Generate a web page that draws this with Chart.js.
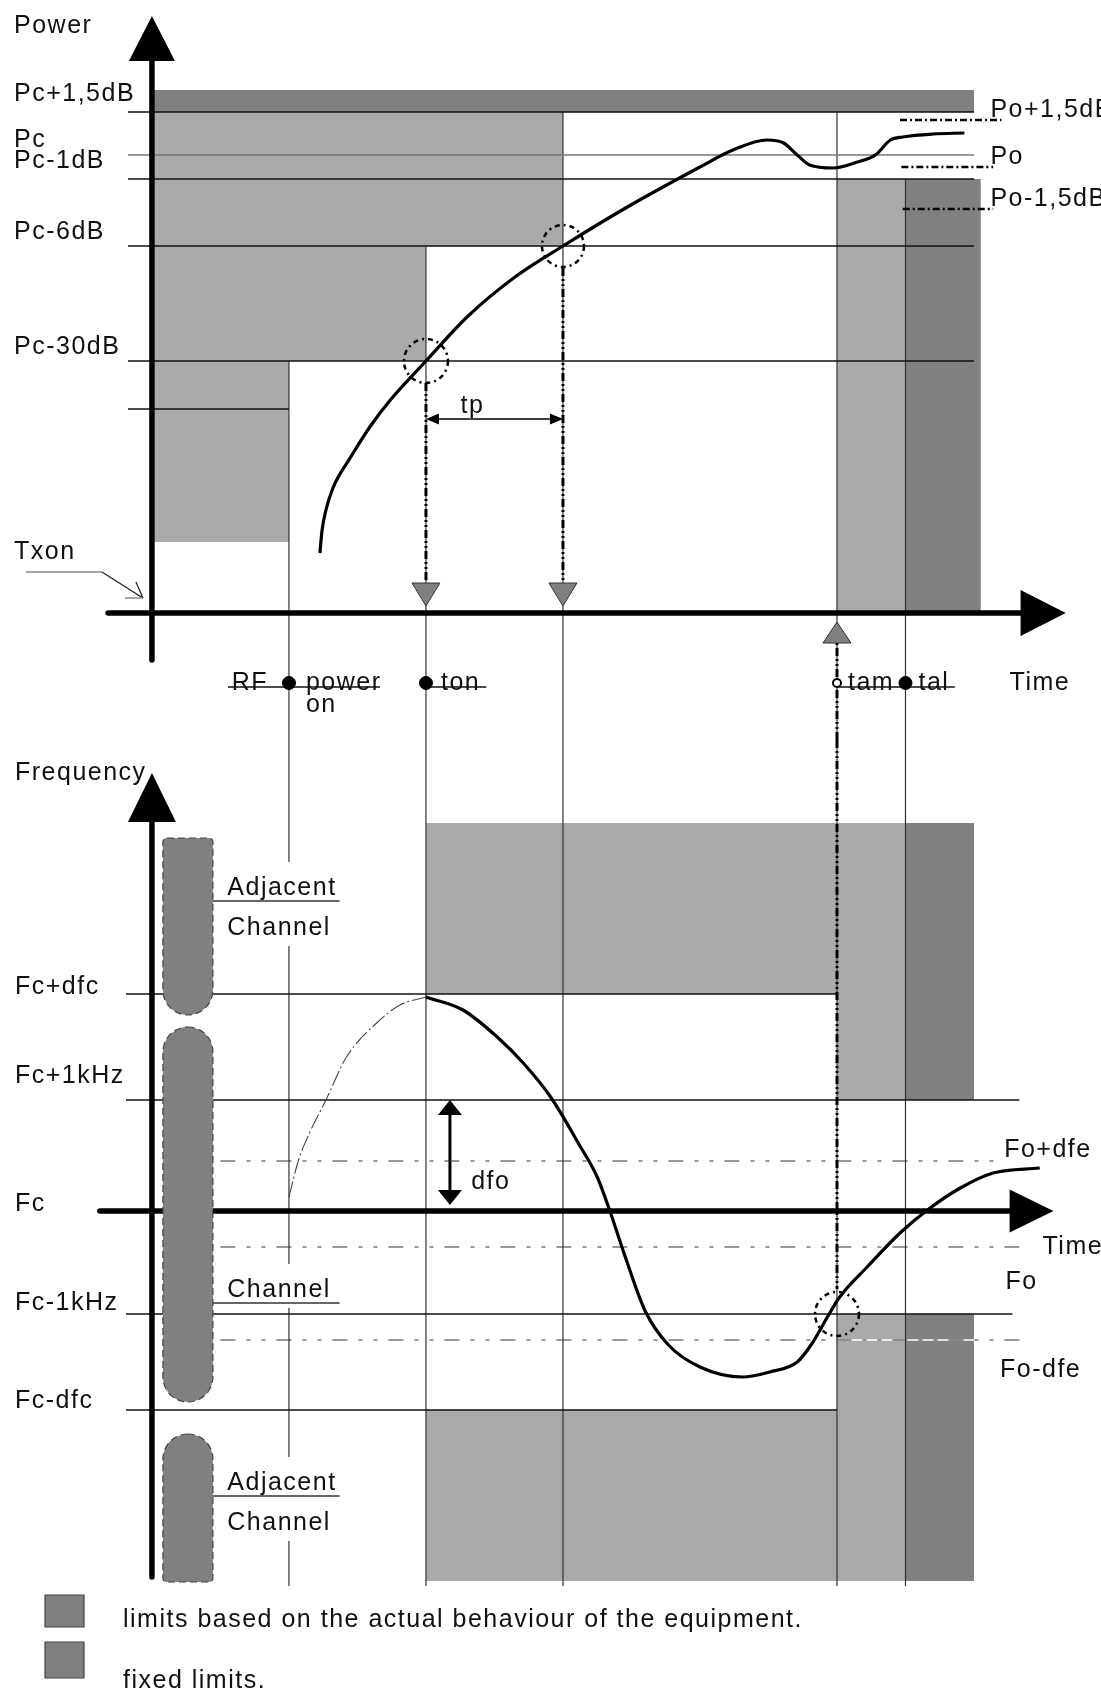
<!DOCTYPE html>
<html>
<head>
<meta charset="utf-8">
<title>Power and frequency limits during transmitter switch-on</title>
<script src="https://cdn.jsdelivr.net/npm/chart.js@4.4.0/dist/chart.umd.min.js"></script>
<style>
  html, body { margin: 0; padding: 0; background: #fff; }
  #wrap { width: 1101px; height: 1690px; overflow: hidden; }
  canvas { display: block; }
</style>
</head>
<body>
<div id="wrap">
  <canvas id="powerCanvas" width="1101" height="740"></canvas>
  <canvas id="freqCanvas" width="1101" height="950"></canvas>
</div>
<script>
// schematic units: time in steps (0 = Txon), levels in divisions above the time axis

var eventTimes = [1, 2, 3, 5, 5.5];
var eventNames = ['RF power on', 'ton', '', 'tam', 'tal'];

var powerLevels = [50.1, 45.8, 43.4, 36.7, 25.2, 20.4];
var powerNames  = ['Pc+1,5dB', 'Pc', 'Pc-1dB', 'Pc-6dB', 'Pc-30dB', ''];
var powerBandTop = 52.3;
var rfMaskBottom = 7.1;
var poLevels = [49.3, 44.6, 40.4];
var poNames  = ['Po+1,5dB', 'Po', 'Po-1,5dB'];
var powerT = [1.226, 1.241, 1.270, 1.321, 1.372, 1.423, 1.59, 1.74, 2.0, 2.30, 2.64, 3.0, 3.47, 4.0, 4.24, 4.49, 4.61, 4.71, 4.80, 4.97, 5.15, 5.28, 5.39, 5.48, 5.70, 5.93];
var powerV = [6.0, 8.2, 10.3, 12.5, 13.9, 15.0, 18.6, 21.3, 25.2, 29.6, 33.5, 36.7, 40.6, 44.6, 46.3, 47.3, 47.0, 45.8, 44.8, 44.5, 45.1, 45.8, 47.3, 47.6, 47.9, 48.0];

var freqLevels = [21.7, 11.1, 0, -10.3, -19.9];
var freqNames  = ['Fc+dfc', 'Fc+1kHz', 'Fc', 'Fc-1kHz', 'Fc-dfc'];
var foLevels = [5.0, -3.6, -12.9];
var foNames  = ['Fo+dfe', 'Fo', 'Fo-dfe'];
var freqMaskTop = 38.8;
var freqMaskBottom = -37.0;
var channelTop    = [37.3, 18.4, -22.3];
var channelBottom = [19.6, -19.1, -37.1];
var channelNames  = [['Adjacent', 'Channel'], ['Channel'], ['Adjacent', 'Channel']];
var warmT = [1.0, 1.07, 1.15, 1.27, 1.42, 1.64, 1.81, 2.0];
var warmV = [1.4, 5.1, 7.8, 11.1, 15.4, 18.8, 20.6, 21.4];
var freqT = [2.0, 2.27, 2.52, 2.71, 2.91, 3.12, 3.25, 3.34, 3.46, 3.60, 3.77, 4.0, 4.31, 4.51, 4.71, 4.82, 4.93, 5.02, 5.22, 5.46, 5.66, 5.90, 6.14, 6.48];
var freqV = [21.4, 20.1, 17.4, 14.8, 11.4, 6.6, 3.4, 0.1, -4.8, -10.0, -13.4, -15.6, -16.6, -16.1, -15.1, -13.2, -10.6, -8.6, -5.6, -2.2, 0.1, 2.3, 3.8, 4.3];

var legendNames = ['limits based on the actual behaviour of the equipment.', 'fixed limits.'];

// ---- styles ----
var LIGHT = '#aaaaaa', DARK = '#808080';
var FONT = '25px "Liberation Sans", Arial, sans-serif';
var GUIDE_DASH = [8, 3, 2, 3, 2, 3];

function seg(t0, v0, t1, v1, extra) {
    var ds = { data: [{x: t0, y: v0}, {x: t1, y: v1}], borderColor: '#111', borderWidth: 1.4,
               pointRadius: 0, fill: false, tension: 0, order: 20 };
    for (var k in extra) ds[k] = extra[k];
    return ds;
}
function zone(t0, t1, v0, v1, colour) {
    return { data: [{x: t0, y: v1}, {x: t1, y: v1}], fill: {value: v0}, backgroundColor: colour,
             borderColor: 'rgba(0,0,0,0)', borderWidth: 0, pointRadius: 0, order: 40 };
}
function curve(ts, vs, extra) {
    var pts = [];
    for (var i = 0; i < ts.length; i++) pts.push({x: ts[i], y: vs[i]});
    var ds = { data: pts, borderColor: '#000', borderWidth: 3.2, pointRadius: 0, fill: false,
               cubicInterpolationMode: 'monotone', order: 10 };
    for (var k in extra) ds[k] = extra[k];
    return ds;
}
function options(yMin, yMax) {
    return {
        responsive: false, animation: false, events: [],
        layout: { padding: 0, autoPadding: false },
        plugins: { legend: { display: false }, tooltip: { enabled: false } },
        scales: {
            x: { type: 'linear', min: -1.109, max: 6.927, display: false },
            y: { type: 'linear', min: yMin, max: yMax, display: false }
        }
    };
}

function poly(ctx, pts, fill, stroke, lw) {
    ctx.beginPath();
    ctx.moveTo(pts[0][0], pts[0][1]);
    for (var i = 1; i < pts.length; i++) ctx.lineTo(pts[i][0], pts[i][1]);
    ctx.closePath();
    if (fill) { ctx.fillStyle = fill; ctx.fill(); }
    if (stroke) { ctx.setLineDash([]); ctx.strokeStyle = stroke; ctx.lineWidth = lw || 1; ctx.stroke(); }
}
function ring(ctx, x, y, r) {
    ctx.save();
    ctx.setLineDash([5, 4, 2, 4]);
    ctx.lineWidth = 2.5;
    ctx.strokeStyle = '#000';
    ctx.beginPath();
    ctx.arc(x, y, r, 0, Math.PI * 2);
    ctx.stroke();
    ctx.restore();
}
function text(ctx, s, x, y, align) {
    ctx.font = FONT;
    ctx.fillStyle = '#111';
    ctx.textAlign = align || 'left';
    ctx.textBaseline = 'middle';
    ctx.letterSpacing = '1.5px';
    ctx.fillText(s, x, y);
}
function line(ctx, pts, colour, lw) {
    ctx.setLineDash([]);
    ctx.strokeStyle = colour;
    ctx.lineWidth = lw;
    ctx.beginPath();
    ctx.moveTo(pts[0][0], pts[0][1]);
    for (var i = 1; i < pts.length; i++) ctx.lineTo(pts[i][0], pts[i][1]);
    ctx.stroke();
}

// ---------------- power panel ----------------
var eventRow = -7.0;
var tpLevel = 19.4;
var powerSets = [
    zone(0, 3, powerLevels[3], powerLevels[0], LIGHT),
    zone(0, 2, powerLevels[4], powerLevels[0], LIGHT),
    zone(0, 1, rfMaskBottom, powerLevels[0], LIGHT),
    zone(0, 6, powerLevels[0], powerBandTop, DARK),
    zone(5, 5.5, 0, powerLevels[2], LIGHT),
    zone(5.5, 6.05, 0, powerLevels[2], DARK)
];
powerLevels.forEach(function (v, i) {
    powerSets.push(seg(-0.175, v, i === 5 ? 1 : 6, v, { borderColor: i === 1 ? '#777' : '#111' }));
});
var guideTop = [powerLevels[4], powerLevels[3], powerLevels[0], powerLevels[0], powerLevels[2]];
eventTimes.forEach(function (t, i) {
    powerSets.push(seg(t, guideTop[i], t, -12.7, { borderColor: '#333', borderWidth: 1.2 }));
});
poLevels.forEach(function (v, i) {
    powerSets.push(seg(5.46 + i * 0.01, v, i === 0 ? 6.2 : 6.14, v,
        { borderDash: [7, 3, 2, 3], borderWidth: 2.6, borderColor: '#000', order: 15 }));
});
powerSets.push(seg(2, 23.0, 2, 3.0, { borderDash: GUIDE_DASH, borderWidth: 3, borderColor: '#000', order: 15 }));
powerSets.push(seg(3, 34.5, 3, 3.0, { borderDash: GUIDE_DASH, borderWidth: 3, borderColor: '#000', order: 15 }));
powerSets.push(seg(5, -12.7, 5, -3.0, { borderDash: GUIDE_DASH, borderWidth: 3, borderColor: '#000', order: 15 }));
powerSets.push(seg(2.06, tpLevel, 2.94, tpLevel, { borderWidth: 1.6, borderColor: '#000' }));
powerSets.push(seg(0.555, -7.4, 1.664, -7.4, { borderWidth: 1.3 }));
powerSets.push(seg(2.0, -7.4, 2.44, -7.4, { borderWidth: 1.3 }));
powerSets.push(seg(5.0, -7.4, 5.86, -7.4, { borderWidth: 1.3 }));
powerSets.push(curve(powerT, powerV));
powerSets.push(seg(-0.32, 0, 6.34, 0, { borderWidth: 5.5, borderColor: '#000', borderCapStyle: 'round', order: 5 }));
powerSets.push(seg(0, -4.7, 0, 55.2, { borderWidth: 5.5, borderColor: '#000', borderCapStyle: 'round', order: 5 }));
powerSets.push({
    data: eventTimes.filter(function (t, i) { return eventNames[i]; })
                    .map(function (t) { return {x: t, y: eventRow}; }),
    showLine: false, order: 1,
    pointRadius: [6.5, 6.5, 4, 6.5],
    pointBackgroundColor: ['#000', '#000', '#fff', '#000'],
    pointBorderColor: '#000', pointBorderWidth: [1, 1, 2, 1]
});

var powerDecor = {
    id: 'powerDecor',
    afterDatasetsDraw: function (chart) {
        var ctx = chart.ctx, xs = chart.scales.x, ys = chart.scales.y;
        function px(t) { return xs.getPixelForValue(t); }
        function py(v) { return ys.getPixelForValue(v); }
        var x0 = px(0), y0 = py(0);
        ctx.save();

        // axis arrow heads
        poly(ctx, [[x0, py(59.7)], [x0 - 23, py(55.2)], [x0 + 23, py(55.2)]], '#000');
        poly(ctx, [[px(6.67), y0], [px(6.34), y0 - 23], [px(6.34), y0 + 23]], '#000');

        // markers on the time axis
        [eventTimes[1], eventTimes[2]].forEach(function (t) {
            poly(ctx, [[px(t) - 14, y0 - 30], [px(t) + 14, y0 - 30], [px(t), y0 - 7]], DARK, '#333', 1);
        });
        var ta = px(eventTimes[3]);
        poly(ctx, [[ta, y0 + 9], [ta - 14, y0 + 30], [ta + 14, y0 + 30]], DARK, '#333', 1);

        ring(ctx, px(eventTimes[1]), py(powerLevels[4]), 22);
        ring(ctx, px(eventTimes[2]), py(powerLevels[3]), 21);

        // tp
        var ty = py(tpLevel), a = px(eventTimes[1]), b = px(eventTimes[2]);
        poly(ctx, [[a, ty], [a + 13, ty - 5.5], [a + 13, ty + 5.5]], '#000');
        poly(ctx, [[b, ty], [b - 13, ty - 5.5], [b - 13, ty + 5.5]], '#000');
        text(ctx, 'tp', px(2.34), py(20.7), 'center');

        // Txon pointer
        line(ctx, [[x0 - 126, y0 - 41], [x0 - 50, y0 - 41]], '#888', 1.5);
        line(ctx, [[x0 - 50, y0 - 41], [x0 - 9, y0 - 15]], '#222', 1.3);
        line(ctx, [[x0 - 16, y0 - 31], [x0 - 9, y0 - 15]], '#222', 1.3);
        line(ctx, [[x0 - 27, y0 - 15], [x0 - 9, y0 - 15]], '#888', 1.5);

        // labels
        text(ctx, 'Power', 14, py(58.7));
        var dy = [18, 15, 18, 14, 14, 0];
        powerNames.forEach(function (s, i) { if (s) text(ctx, s, 14, py(powerLevels[i]) - dy[i]); });
        text(ctx, 'Txon', 14, py(6.1));
        poNames.forEach(function (s, i) { text(ctx, s, px(6.12), py(poLevels[i]) - 10); });

        var ey = py(eventRow), words = eventNames[0].split(' ');
        text(ctx, words[0], px(eventTimes[0]) - 21, ey, 'right');
        text(ctx, words[1], px(eventTimes[0]) + 17, ey);
        text(ctx, words[2], px(eventTimes[0]) + 17, ey + 22);
        text(ctx, eventNames[1], px(eventTimes[1]) + 15, ey);
        text(ctx, eventNames[3], px(eventTimes[3]) + 11, ey);
        text(ctx, eventNames[4], px(eventTimes[4]) + 13, ey);
        text(ctx, 'Time', px(6.26), ey);
        ctx.restore();
    }
};

new Chart(document.getElementById('powerCanvas'), {
    type: 'line',
    data: { datasets: powerSets },
    options: options(-12.7, 61.3),
    plugins: [powerDecor]
});

// ---------------- frequency panel ----------------
var freqSets = [
    zone(2, 5, freqLevels[0], freqMaskTop, LIGHT),
    zone(5, 5.5, freqLevels[1], freqMaskTop, LIGHT),
    zone(5.5, 6, freqLevels[1], freqMaskTop, DARK),
    zone(2, 5, freqMaskBottom, freqLevels[4], LIGHT),
    zone(5, 5.5, freqMaskBottom, freqLevels[3], LIGHT),
    zone(5.5, 6, freqMaskBottom, freqLevels[3], DARK)
];
var freqLineEnd = [5, 6.33, null, 6.28, 5];
freqLevels.forEach(function (v, i) {
    if (freqLineEnd[i] !== null) freqSets.push(seg(-0.19, v, freqLineEnd[i], v, { borderWidth: 1.6 }));
});
eventTimes.forEach(function (t) {
    freqSets.push(seg(t, 47.1, t, -37.5, { borderColor: '#333', borderWidth: 1.2 }));
});
freqSets.push(seg(5, foLevels[2], 6, foLevels[2], { borderColor: '#fff', borderWidth: 1.3, order: 30 }));
var foEnd = [6.22, 6.36, 6.36];
foLevels.forEach(function (v, i) {
    freqSets.push(seg(0.5, v, foEnd[i], v, { borderDash: [15, 11, 4, 11, 4, 11], borderWidth: 1.2, borderColor: '#333', order: 18 }));
});
freqSets.push(seg(5, 47.1, 5, -7.8, { borderDash: GUIDE_DASH, borderWidth: 3, borderColor: '#000', order: 15 }));
freqSets.push(seg(2.175, 9.7, 2.175, 1.4, { borderWidth: 3, borderColor: '#000' }));
freqSets.push(curve(warmT, warmV, { borderWidth: 1.1, borderColor: '#444', borderDash: [16, 3, 2, 3], order: 12 }));
freqSets.push(curve(freqT, freqV));
freqSets.push(seg(-0.38, 0, 6.26, 0, { borderWidth: 5.5, borderColor: '#000', borderCapStyle: 'round', order: 5 }));
freqSets.push(seg(0, -36.6, 0, 38.9, { borderWidth: 5.5, borderColor: '#000', borderCapStyle: 'round', order: 5 }));

var channelLabelV = [32.3, -7.9, -27.2];

var freqDecor = {
    id: 'freqDecor',
    afterDatasetsDraw: function (chart) {
        var ctx = chart.ctx, xs = chart.scales.x, ys = chart.scales.y;
        function px(t) { return xs.getPixelForValue(t); }
        function py(v) { return ys.getPixelForValue(v); }
        var x0 = px(0), y0 = py(0);
        ctx.save();

        poly(ctx, [[x0, py(43.8)], [x0 - 24, py(38.9)], [x0 + 24, py(38.9)]], '#000');
        poly(ctx, [[px(6.58), y0], [px(6.26), y0 - 21.5], [px(6.26), y0 + 21.5]], '#000');

        // channel blobs
        var bx0 = px(0.08), bx1 = px(0.445), r = (bx1 - bx0) / 2;
        channelTop.forEach(function (top, i) {
            var rt = i === 0 ? 4 : r, rb = i === 2 ? 4 : r;
            ctx.beginPath();
            ctx.roundRect(bx0, py(top), bx1 - bx0, py(channelBottom[i]) - py(top), [rt, rt, rb, rb]);
            ctx.fillStyle = DARK;
            ctx.fill();
            ctx.setLineDash([7, 4]);
            ctx.lineWidth = 1.2;
            ctx.strokeStyle = '#444';
            ctx.stroke();
        });

        // channel labels
        var lx = px(0.55);
        channelNames.forEach(function (names, i) {
            var first = py(channelLabelV[i]), last = first + (names.length - 1) * 40;
            ctx.fillStyle = '#fff';
            ctx.fillRect(lx - 6, first - 26, 124, last - first + 44);
            line(ctx, [[bx1, first + 13], [px(1.37), first + 13]], '#333', 1.3);
            names.forEach(function (s, k) { text(ctx, s, lx, first + k * 40); });
        });

        ring(ctx, px(eventTimes[3]), py(freqLevels[3]), 22);

        // dfo arrow
        var dx = px(2.175);
        poly(ctx, [[dx, py(freqLevels[1])], [dx - 12, py(freqLevels[1]) + 15], [dx + 12, py(freqLevels[1]) + 15]], '#000');
        poly(ctx, [[dx, py(0.6)], [dx - 12, py(0.6) - 15], [dx + 12, py(0.6) - 15]], '#000');
        text(ctx, 'dfo', px(2.33), py(2.9));

        // labels
        text(ctx, 'Frequency', 15, py(43.8));
        var dy = [7, 24, 7, 11, 9];
        freqNames.forEach(function (s, i) { text(ctx, s, 15, py(freqLevels[i]) - dy[i]); });
        text(ctx, foNames[0], px(6.22), py(foLevels[0]) - 11);
        text(ctx, foNames[1], px(6.23), py(foLevels[1]) + 35);
        text(ctx, foNames[2], px(6.19), py(foLevels[2]) + 30);
        text(ctx, 'Time', px(6.5), py(foLevels[1]));

        // legend
        var H = chart.height;
        poly(ctx, [[45, H - 95], [84, H - 95], [84, H - 63], [45, H - 63]], DARK, '#444', 1.2);
        poly(ctx, [[45, H - 48], [84, H - 48], [84, H - 12], [45, H - 12]], DARK, '#444', 1.2);
        text(ctx, legendNames[0], 123, H - 70);
        text(ctx, legendNames[1], 123, H - 9);
        ctx.restore();
    }
};

new Chart(document.getElementById('freqCanvas'), {
    type: 'line',
    data: { datasets: freqSets },
    options: options(-47.9, 47.1),
    plugins: [freqDecor]
});
</script>
</body>
</html>
